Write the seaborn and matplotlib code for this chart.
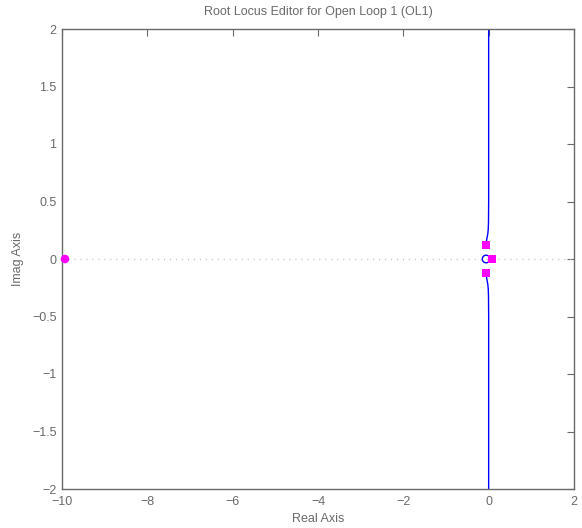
import matplotlib
matplotlib.use("Agg")
import matplotlib.pyplot as plt
import seaborn as sns
import pandas as pd

# ---- data ----
title = "Root Locus Editor for Open Loop 1 (OL1)"
xlabel = "Real Axis"
ylabel = "Imag Axis"
xticks = [-10, -8, -6, -4, -2, 0, 2]
yticks = [-2, -1.5, -1, -0.5, 0, 0.5, 1, 1.5, 2]

# upper locus branch (lower branch is its conjugate)
locus_re = [-0.06, -0.05, -0.035, -0.02, -0.01, -0.004, 0.0, 0.0]
locus_im = [0.13, 0.16, 0.19, 0.22, 0.26, 0.32, 0.5, 2.0]

zero_re = [-0.06]
zero_im = [0.0]

cl_sq_re = [-0.06, -0.06, 0.08]
cl_sq_im = [0.12, -0.12, 0.0]

cl_dot_re = [-9.93]
cl_dot_im = [0.0]

# ---- style ----
sns.set_style("white")
plt.rcParams['font.family'] = ['Liberation Sans', 'DejaVu Sans']
plt.rcParams['axes.unicode_minus'] = True
grey = '#6a6a6a'

def fmt(v):
    s = "%g" % v
    return s.replace("-", "\u2212")

fig = plt.figure(figsize=(5.82, 5.28), dpi=100)
ax = fig.add_axes([62/582, 1-489/528, (574-62)/582, (489-29)/528])

# real axis dotted line
ax.axhline(0, color='#c4c4c4', lw=1.0, dashes=(0.8, 3.5), zorder=1)

up = pd.DataFrame({"re": locus_re, "im": locus_im})
lo = pd.DataFrame({"re": locus_re, "im": [-v for v in locus_im]})
sns.lineplot(data=up, x="re", y="im", sort=False, estimator=None, color='#0000ff', lw=1.0, ax=ax, zorder=2)
sns.lineplot(data=lo, x="re", y="im", sort=False, estimator=None, color='#0000ff', lw=1.0, ax=ax, zorder=2)

ax.scatter(zero_re, zero_im, s=30, facecolors='none', edgecolors='#0000ff', linewidths=1.0, zorder=3)
ax.scatter(cl_sq_re, cl_sq_im, s=30, marker='s', color='#ff00ff', edgecolors='none', zorder=4)
ax.scatter(cl_dot_re, cl_dot_im, s=38, marker='o', color='#ff00ff', edgecolors='none', zorder=4, clip_on=False)

ax.set_xlim(-10, 2)
ax.set_ylim(-2, 2)
ax.set_xticks(xticks)
ax.set_yticks(yticks)
ax.set_xticklabels([fmt(t) for t in xticks])
ax.set_yticklabels([fmt(t) for t in yticks])

for sp in ax.spines.values():
    sp.set_visible(True)
    sp.set_color(grey)
    sp.set_linewidth(1.0)

ax.tick_params(axis='both', direction='in', length=5, width=0.8, color=grey,
               labelcolor=grey, labelsize=9, top=True, right=True)
ax.tick_params(axis='x', pad=5)
ax.tick_params(axis='y', pad=4)

ax.set_title(title, color=grey, fontsize=9, pad=10)
ax.set_xlabel(xlabel, color=grey, fontsize=9, labelpad=4)
ax.set_ylabel(ylabel, color=grey, fontsize=9, labelpad=6)

fig.savefig("out.png", dpi=100)
